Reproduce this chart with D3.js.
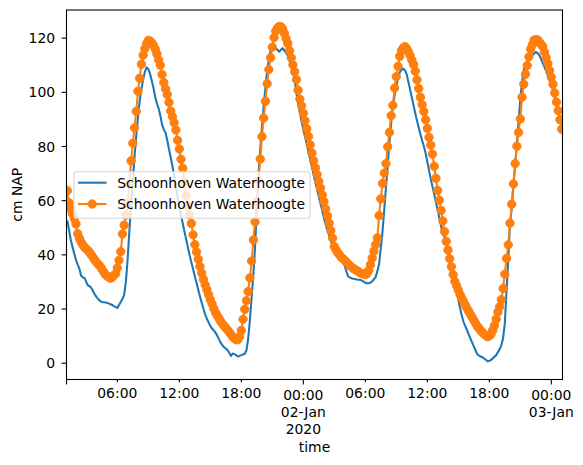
<!DOCTYPE html>
<html>
<head>
<meta charset="utf-8">
<script src="https://cdn.jsdelivr.net/npm/d3@7"></script>
<style>
  body { margin: 0; background: #fff; }
  svg text { font-family: "DejaVu Sans", sans-serif; font-size: 13.9px; fill: #000; }
</style>
</head>
<body>
<script>
// 10-minute series, first sample 01:05 on 1 Jan 2020
const startTime = new Date(2020, 0, 1, 1, 5);
const endTime = new Date(2020, 0, 3, 1, 5);

// measured water level (cm NAP)
const observed = [
  52.5, 48.9, 45.3, 42.7, 40.2, 38, 36.2, 34.6, 32.1, 31.5, 31.2, 29.8,
  28.5, 28.2, 27.5, 26.3, 25.1, 24.2, 23.4, 22.8, 22.4, 22.3, 22.2, 22.1,
  21.9, 21.6, 21.3, 20.9, 20.6, 20.2, 21.3, 22.4, 23.6, 25, 30, 38.2,
  48.5, 58.5, 67.4, 76.1, 83.8, 90.6, 96.7, 101, 104.5, 107.4, 109, 108.4,
  106.7, 104.2, 101.4, 98.2, 95.7, 93.8, 91.2, 87.8, 86.1, 84.9, 82.1, 78.9,
  75.7, 72.6, 68.9, 65, 61.2, 57.4, 54.4, 51.4, 48.4, 45.5, 42.6, 39.7,
  37.1, 34.5, 32, 29.5, 26.9, 24.4, 22.1, 19.9, 17.8, 16.2, 14.9, 13.6,
  12.6, 11.9, 11.1, 10, 8.7, 7.4, 6.5, 5.7, 5.2, 4.7, 3.6, 2.5,
  3.4, 3.2, 2.8, 2.3, 2.5, 2.8, 3, 3.3, 4.6, 8.9, 15.8, 24.2,
  32.5, 42.8, 56.8, 69.6, 78.9, 87.2, 94.8, 101.4, 107.8, 111.9, 115.5, 116.1,
  116.1, 116.1, 115.5, 114.8, 115.5, 116.1, 115.2, 114.4, 113.4, 111.4, 109.3, 107.3,
  104.6, 99.5, 95.7, 92.5, 89, 86.2, 83.4, 80.7, 77.9, 75.1, 72.2, 69.4,
  66.6, 64, 61.3, 58.7, 56, 53.3, 51, 49, 47, 45, 43.3, 41.5,
  40.4, 39.3, 38.5, 37.8, 37.2, 36, 33.7, 31.9, 31.5, 31.2, 31, 30.9,
  30.7, 30.6, 30.6, 30.3, 29.9, 29.5, 29.3, 29.3, 29.6, 30, 30.8, 31.6,
  33.8, 36.4, 42.3, 48.4, 56.5, 64.7, 73, 81.3, 88.3, 94.6, 98.7, 102.3,
  105, 107.2, 108.1, 108.6, 108, 106.5, 103.7, 100.9, 98, 95, 92.1, 89.4,
  86.8, 84.3, 82, 79.9, 77.4, 74.2, 71, 67.8, 65, 62.2, 59.3, 56.5,
  53.4, 50.5, 47.7, 46.4, 44.7, 40.7, 36.9, 33.4, 30.9, 28.4, 25.9, 23.4,
  20.2, 17.4, 15.1, 13.6, 12.1, 10.5, 9, 7.5, 6, 4.6, 3.1, 2.6,
  2.3, 2, 1.6, 1.1, 0.5, 0.7, 1, 1.6, 2.2, 2.8, 3.9, 5,
  6.4, 9, 14.5, 26.4, 37.6, 51, 56.9, 65.2, 73.2, 80.9, 88.9, 97.5,
  103.4, 107.9, 110.1, 111.1, 112.2, 112.9, 113.5, 114.1, 114.7, 114.3, 113.6, 112.2,
  110.7, 109.2, 107.6, 106.1, 104.5, 102.8, 100.3, 97.7, 95.1, 92.7, 90.6, 88.5,
  86.8
];

// predicted water level (cm NAP)
const predicted = [
  63.5, 59, 56.8, 55, 53.2, 51.2, 47.6, 45.9, 44.5, 43.5, 42.6, 42,
  41.4, 40.6, 39.7, 38.8, 37.8, 37, 36.3, 35.6, 34.6, 33.6, 32.6, 32,
  31.6, 31.2, 31.5, 32.2, 32.8, 35, 37.8, 41, 47.5, 50.8, 54.5, 59,
  66, 74.5, 81, 86.7, 92.8, 100.2, 105, 110.2, 113.5, 115.9, 117.8, 119,
  118.7, 118.1, 117.2, 115.8, 114, 111.8, 109.8, 106.4, 103.4, 101.1, 99, 96.1,
  92.9, 90.8, 88.6, 85.9, 82.1, 78.9, 75.1, 71.8, 66.6, 61.7, 57.8, 54.6,
  51.4, 47.2, 43.6, 40.9, 38.2, 35.5, 33.1, 30.8, 28.8, 27, 25.1, 23.3,
  21.7, 20, 18.6, 17.4, 16.4, 15.3, 14.4, 13.6, 12.8, 12.1, 11.3, 10.4,
  9.6, 9, 8.5, 8.5, 9.6, 11.9, 16, 19.7, 22.9, 26.3, 31.3, 37.5,
  45.3, 52, 59.5, 67.3, 75.2, 83.5, 90.3, 96.5, 103, 108.2, 112.6, 116.5,
  120, 122.4, 123.6, 124.1, 124, 123.2, 121.6, 119.7, 117.8, 115.2, 112.6, 109.9,
  107.4, 104.5, 100.6, 97.3, 94.8, 92.1, 89.3, 86.4, 83.5, 80.4, 77.4, 74.6,
  72, 69.5, 66.9, 64.5, 61.9, 59.4, 56.8, 54.2, 51.5, 48.8, 46, 42.9,
  41.6, 40.6, 39.8, 39, 38.4, 37.8, 37.2, 36.5, 35.9, 35.3, 34.8, 34.4,
  34, 33.6, 33.2, 32.9, 32.7, 32.5, 32.9, 34.1, 36.2, 38.6, 41.2, 43.6,
  46.1, 54.3, 60.5, 66.2, 70, 73.5, 79.7, 85, 91.2, 95, 101.4, 105.6,
  109.4, 113.1, 115.2, 116.2, 116.7, 115.9, 114.8, 113.4, 111.7, 110.1, 107.6, 104.4,
  101.2, 98, 95.2, 92.7, 89.7, 86.5, 83.2, 80.3, 77, 72.5, 68.1, 63.6,
  60, 56.2, 52.3, 48.4, 44.8, 41.6, 38.4, 35.4, 32.5, 30, 28.4, 26.8,
  25.2, 23.8, 22.6, 21.3, 20.1, 19, 17.9, 16.8, 15.7, 14.6, 13.5, 12.7,
  11.9, 11.2, 10.6, 10.1, 9.6, 9.9, 10.6, 12, 13.7, 16.1, 18.7, 20.7,
  23.3, 27.4, 32.7, 38.5, 43.5, 51.5, 58.5, 66, 73.5, 79.9, 85, 90,
  98, 102.8, 106.5, 109.7, 112.9, 115.8, 117.4, 119.1, 119.2, 119.2, 118.5, 117.6,
  116.7, 114.7, 112.6, 110.4, 107.9, 105.4, 102.8, 99.6, 96.2, 93, 89.7, 86.2,
  82.5
];

const seriesNames = ["Schoonhoven Waterhoogte", "Schoonhoven Waterhoogte"];
const yTicks = [0, 20, 40, 60, 80, 100, 120];

// x ticks: [time, label lines, major?]
const xTickDefs = [
  [new Date(2020, 0, 1, 1, 5), [], true],
  [new Date(2020, 0, 1, 6), ["06:00"], false],
  [new Date(2020, 0, 1, 12), ["12:00"], false],
  [new Date(2020, 0, 1, 18), ["18:00"], false],
  [new Date(2020, 0, 2, 0), ["00:00", "02-Jan", "2020"], true],
  [new Date(2020, 0, 2, 6), ["06:00"], false],
  [new Date(2020, 0, 2, 12), ["12:00"], false],
  [new Date(2020, 0, 2, 18), ["18:00"], false],
  [new Date(2020, 0, 3, 0), ["00:00", "03-Jan"], true]
];

const times = d3.timeMinute.every(10).range(startTime, new Date(+endTime + 1000));
const obsData = times.map((t, i) => ({ t: t, v: observed[i] }));
const predData = times.map((t, i) => ({ t: t, v: predicted[i] }));

const W = 583, H = 465;
const plotLeft = 66.5, plotRight = 562.5, plotTop = 10, plotBottom = 379.5;

const x = d3.scaleTime().domain([startTime, endTime]).range([plotLeft, plotRight]);
const y = d3.scaleLinear().domain([-6.2, 130.2]).range([plotBottom, plotTop]);

const svg = d3.select("body").append("svg")
    .attr("width", W)
    .attr("height", H);

svg.append("defs").append("clipPath")
    .attr("id", "plotclip")
    .append("rect")
    .attr("x", plotLeft).attr("y", plotTop)
    .attr("width", plotRight - plotLeft).attr("height", plotBottom - plotTop);

const plot = svg.append("g").attr("clip-path", "url(#plotclip)");

const line = d3.line().x(d => x(d.t)).y(d => y(d.v));

plot.append("path")
    .datum(obsData)
    .attr("fill", "none")
    .attr("stroke", "#1f77b4")
    .attr("stroke-width", 2.08)
    .attr("stroke-linejoin", "round")
    .attr("d", line);

plot.append("path")
    .datum(predData)
    .attr("fill", "none")
    .attr("stroke", "#ff7f0e")
    .attr("stroke-width", 2.08)
    .attr("stroke-linejoin", "round")
    .attr("d", line);

plot.selectAll("circle.pred")
    .data(predData)
    .enter().append("circle")
    .attr("class", "pred")
    .attr("cx", d => x(d.t))
    .attr("cy", d => y(d.v))
    .attr("r", 4.17)
    .attr("fill", "#ff7f0e")
    .attr("stroke", "#ff7f0e")
    .attr("stroke-width", 1.0);

// y axis
const yAxis = svg.append("g")
    .attr("transform", `translate(${plotLeft},0)`)
    .call(d3.axisLeft(y).tickValues(yTicks).tickSize(4.9).tickPadding(6.5));
yAxis.select(".domain").remove();
yAxis.selectAll("line").attr("stroke-width", 1.1);
yAxis.selectAll("text")
    .style("font-family", "DejaVu Sans, sans-serif")
    .style("font-size", "13.9px")
    .attr("dy", "0.36em");

// x ticks (pandas style: major at day start, minor labels every 6h)
const xg = svg.append("g");
xTickDefs.forEach(([t, lines, major]) => {
    const px = x(t);
    const len = major ? 4.9 : 2.8;
    xg.append("line")
        .attr("x1", px).attr("x2", px)
        .attr("y1", plotBottom).attr("y2", plotBottom + len)
        .attr("stroke", "#000")
        .attr("stroke-width", 1.1);
    const base = major ? 400.3 : 398.2;
    lines.forEach((s, i) => {
        xg.append("text")
            .attr("x", px)
            .attr("y", base + i * 16.6)
            .attr("text-anchor", "middle")
            .text(s);
    });
});

// frame
svg.append("rect")
    .attr("x", plotLeft).attr("y", plotTop)
    .attr("width", plotRight - plotLeft).attr("height", plotBottom - plotTop)
    .attr("fill", "none")
    .attr("stroke", "#000")
    .attr("stroke-width", 1.1);

// axis labels
svg.append("text")
    .attr("x", (plotLeft + plotRight) / 2)
    .attr("y", 452)
    .attr("text-anchor", "middle")
    .text("time");

svg.append("text")
    .attr("transform", `translate(21.5,${(plotTop + plotBottom) / 2}) rotate(-90)`)
    .attr("text-anchor", "middle")
    .text("cm NAP");

// legend
const lg = svg.append("g");
lg.append("rect")
    .attr("x", 74).attr("y", 171.7)
    .attr("width", 236).attr("height", 46.6)
    .attr("rx", 2.8)
    .attr("fill", "#fff")
    .attr("fill-opacity", 0.8)
    .attr("stroke", "#d6d6d6")
    .attr("stroke-width", 1.1);

const legendRows = [
    { name: seriesNames[0], color: "#1f77b4", marker: false, yy: 182.7 },
    { name: seriesNames[1], color: "#ff7f0e", marker: true, yy: 204 }
];
legendRows.forEach(r => {
    lg.append("line")
        .attr("x1", 78).attr("x2", 106.5)
        .attr("y1", r.yy).attr("y2", r.yy)
        .attr("stroke", r.color)
        .attr("stroke-width", 2.08);
    if (r.marker) {
        lg.append("circle")
            .attr("cx", 92.2).attr("cy", r.yy)
            .attr("r", 4.17)
            .attr("fill", r.color)
            .attr("stroke", r.color)
            .attr("stroke-width", 1.0);
    }
    lg.append("text")
        .attr("x", 117.3)
        .attr("y", r.yy + 5)
        .text(r.name);
});
</script>
</body>
</html>
